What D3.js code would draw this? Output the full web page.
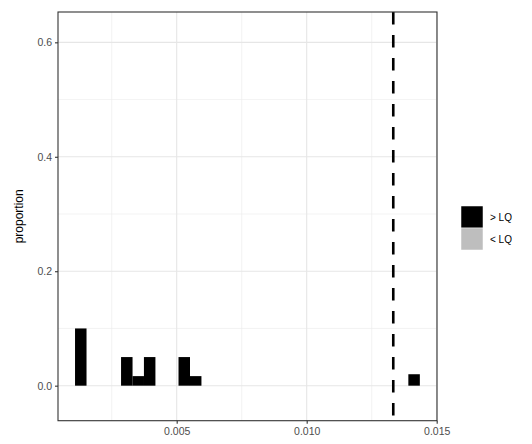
<!DOCTYPE html>
<html><head><meta charset="utf-8">
<script src="https://cdnjs.cloudflare.com/ajax/libs/d3/7.8.5/d3.min.js"></script>
<style>body{margin:0;background:#fff}svg{display:block;font-family:"Liberation Sans",Arial,sans-serif}</style>
</head><body>
<script>
// data
const binStarts = [0.00109, 0.00286, 0.00330, 0.00374, 0.00507, 0.00551, 0.01391];
const binWidth = 0.000442;
const proportions = [0.1, 0.05, 0.0167, 0.05, 0.05, 0.0167, 0.02];
const groups = [">LQ", ">LQ", ">LQ", ">LQ", ">LQ", ">LQ", ">LQ"];
const xTicks = [0.005, 0.010, 0.015];
const xTickLabels = ["0.005", "0.010", "0.015"];
const xMinor = [0.0025, 0.0075, 0.0125];
const yTicks = [0.0, 0.2, 0.4, 0.6];
const yTickLabels = ["0.0", "0.2", "0.4", "0.6"];
const yMinor = [0.1, 0.3, 0.5];
const lqLine = [0.01333];
const legendLabels = ["> LQ", "< LQ"];
const legendColors = ["#000000", "#bebebe"];

const W = 532, H = 444;
const L = 58, R = 437, T = 12, B = 420.7;
const svg = d3.select("body").append("svg").attr("width", W).attr("height", H);
const x = d3.scaleLinear().domain([0.000435, 0.015012]).range([L, R]);
const y = d3.scaleLinear().domain([-0.0612, 0.653]).range([B, T]);

const g = svg.append("g");
// gridlines
g.selectAll(".xmin").data(xMinor).enter().append("line")
  .attr("x1", d => x(d)).attr("x2", d => x(d)).attr("y1", T).attr("y2", B)
  .attr("stroke", "#ebebeb").attr("stroke-width", 0.6);
g.selectAll(".ymin").data(yMinor).enter().append("line")
  .attr("y1", d => y(d)).attr("y2", d => y(d)).attr("x1", L).attr("x2", R)
  .attr("stroke", "#ebebeb").attr("stroke-width", 0.6);
g.selectAll(".xmaj").data(xTicks).enter().append("line")
  .attr("x1", d => x(d)).attr("x2", d => x(d)).attr("y1", T).attr("y2", B)
  .attr("stroke", "#e6e6e6").attr("stroke-width", 1.1);
g.selectAll(".ymaj").data(yTicks).enter().append("line")
  .attr("y1", d => y(d)).attr("y2", d => y(d)).attr("x1", L).attr("x2", R)
  .attr("stroke", "#e6e6e6").attr("stroke-width", 1.1);

// bars
g.selectAll(".bar").data(binStarts).enter().append("rect")
  .attr("x", d => x(d))
  .attr("width", d => x(d + binWidth) - x(d))
  .attr("y", (d, i) => y(proportions[i]))
  .attr("height", (d, i) => y(0) - y(proportions[i]))
  .attr("fill", (d, i) => groups[i] === ">LQ" ? legendColors[0] : legendColors[1]);

// dashed LQ line
g.selectAll(".lq").data(lqLine).enter().append("line")
  .attr("x1", d => x(d)).attr("x2", d => x(d)).attr("y1", T).attr("y2", B)
  .attr("stroke", "#000").attr("stroke-width", 2.6).attr("stroke-dasharray", "12.5,10.5");

// panel border
svg.append("rect").attr("x", L).attr("y", T).attr("width", R - L).attr("height", B - T)
  .attr("fill", "none").attr("stroke", "#333333").attr("stroke-width", 1.1);

// axes
const xAxis = d3.axisBottom(x).tickValues(xTicks).tickFormat((d, i) => xTickLabels[i]).tickSize(3).tickPadding(4);
const gx = svg.append("g").attr("transform", `translate(0,${B})`).call(xAxis);
const yAxis = d3.axisLeft(y).tickValues(yTicks).tickFormat((d, i) => yTickLabels[i]).tickSize(3).tickPadding(3);
const gy = svg.append("g").attr("transform", `translate(${L},0)`).call(yAxis);
[gx, gy].forEach(a => {
  a.select(".domain").remove();
  a.selectAll(".tick line").attr("stroke", "#333333").attr("stroke-width", 1.1);
  a.selectAll(".tick text").attr("fill", "#4d4d4d").style("font-size", "10.5px").style("font-family", "Liberation Sans, Arial, sans-serif");
});

// y axis title
svg.append("text").attr("transform", `translate(23,${(T + B) / 2}) rotate(-90)`)
  .attr("text-anchor", "middle").style("font-size", "12px").attr("fill", "#000").text("proportion");

// legend
const lg = svg.append("g").attr("transform", "translate(461,206)");
lg.selectAll("rect").data(legendLabels).enter().append("rect")
  .attr("x", 0).attr("y", (d, i) => i * 22).attr("width", 22).attr("height", 22)
  .attr("fill", (d, i) => legendColors[i]).attr("stroke", "#fff").attr("stroke-width", 0.5);
lg.selectAll("text").data(legendLabels).enter().append("text")
  .attr("x", 29).attr("y", (d, i) => i * 22 + 11).attr("dy", "0.35em")
  .style("font-size", "10px").attr("fill", "#000").text(d => d);
</script>
</body></html>
